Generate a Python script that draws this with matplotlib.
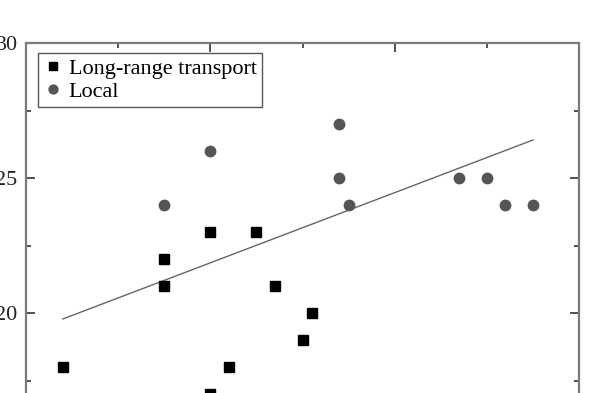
import numpy as np
from matplotlib import pyplot as plt
from matplotlib.ticker import MultipleLocator

plt.rcParams['font.family'] = ['Liberation Serif', 'DejaVu Serif']

# long-range transport samples
long_x = [4, 15, 15, 20, 20, 22, 25, 27, 30, 31]
long_y = [18, 21, 22, 23, 17, 18, 23, 21, 19, 20]

# local samples
local_x = [15, 20, 34, 34, 35, 47, 50, 52, 55]
local_y = [24, 26, 27, 25, 24, 25, 25, 24, 24]

# fitted trend line
fit_slope = 0.130
fit_intercept = 19.26
fit_range = [4, 55]

def main():
    fig = plt.figure(figsize=(5.98, 3.93), dpi=100)
    ax = fig.add_axes([0.0435, -0.140, 0.925, 1.0305])

    fx = np.array(fit_range)
    ax.plot(fx, fit_intercept + fit_slope*fx, color='#666666', lw=1.0, zorder=1)
    ax.plot(long_x, long_y, 's', color='black', ms=7, ls='none',
            label='Long-range transport', zorder=3)
    ax.plot(local_x, local_y, 'o', color='#555555', ms=7.5, ls='none',
            label='Local', zorder=3)

    ax.set_xlim(0, 60)
    ax.set_ylim(15, 30)
    ax.xaxis.set_major_locator(MultipleLocator(20))
    ax.xaxis.set_minor_locator(MultipleLocator(10))
    ax.yaxis.set_major_locator(MultipleLocator(5))
    ax.yaxis.set_minor_locator(MultipleLocator(2.5))
    ax.tick_params(which='both', direction='in', top=True, right=True,
                   color='#333333', width=1.2, labelbottom=False,
                   labelsize=16, labelcolor='#222222')
    ax.tick_params(which='major', length=6.5, pad=6)
    ax.tick_params(which='minor', length=3.5)
    for sp in ax.spines.values():
        sp.set_color('#7a7a7a')
        sp.set_linewidth(1.6)

    leg = ax.legend(loc='upper left', bbox_to_anchor=(0.022, 0.975), fontsize=16,
                    frameon=True, fancybox=False, framealpha=1, edgecolor='#555555',
                    handletextpad=0.25, handlelength=0.9, borderpad=0.22,
                    labelspacing=0.12, markerscale=0.85, borderaxespad=0)
    leg.get_frame().set_linewidth(1.0)

    fig.savefig('out.png', dpi=100)

if __name__ == "__main__":
    main()
